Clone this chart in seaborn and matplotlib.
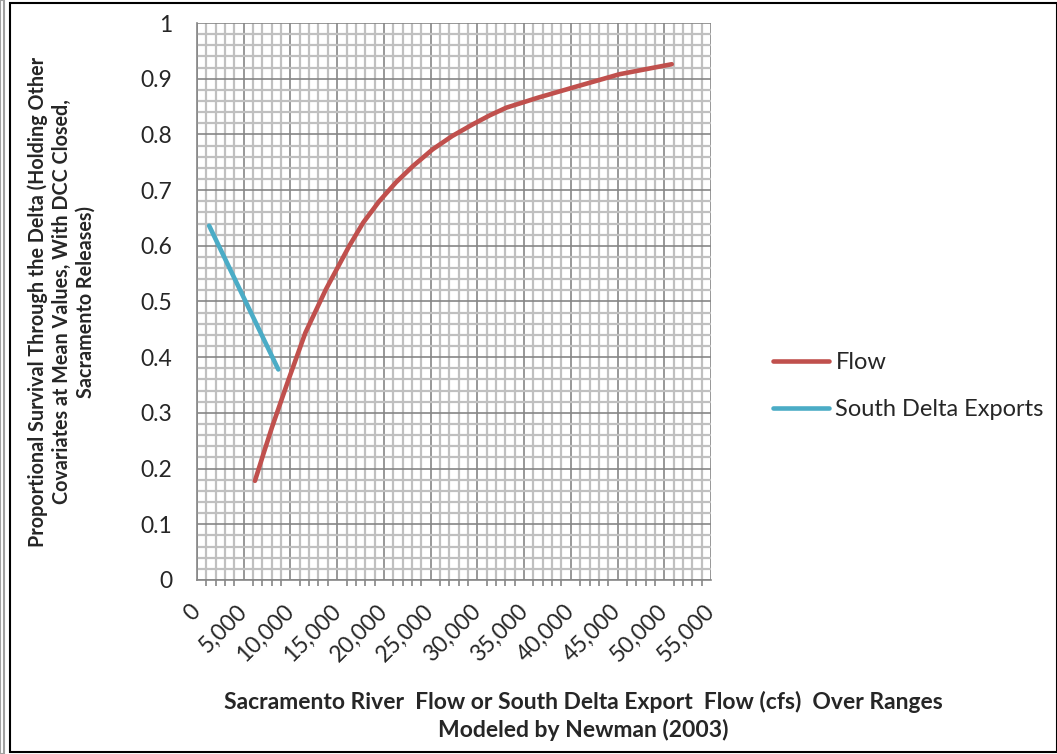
import numpy as np
import pandas as pd
import seaborn as sns
import matplotlib.pyplot as plt
from matplotlib.ticker import MultipleLocator, FuncFormatter
from matplotlib.patches import Rectangle

# values
flow_x = [6200, 7100, 8000, 9800, 11600, 13800, 16300, 17800, 19500, 21300, 23100, 25200, 27300, 29500, 31300,
          33100, 36500, 40200, 45200, 50800]
flow_y = [0.178, 0.226, 0.273, 0.360, 0.444, 0.522, 0.600, 0.642, 0.680, 0.714, 0.743, 0.773, 0.797, 0.818, 0.834,
          0.848, 0.866, 0.884, 0.908, 0.926]
export_x = [1300, 5000, 8700]
export_y = [0.636, 0.507, 0.378]

flow = pd.DataFrame({'cfs': flow_x, 'surv': flow_y})
exports = pd.DataFrame({'cfs': export_x, 'surv': export_y})

sns.set_style("white")
plt.rcParams['font.family'] = ['Lato', 'DejaVu Sans']

fig = plt.figure(figsize=(10.57, 7.54), dpi=100)
ax = fig.add_axes([197/1057, 1 - 580/754, 514/1057, 557/754])

sns.lineplot(data=flow, x='cfs', y='surv', ax=ax, color='#C0504D', lw=3.3,
             label='Flow', sort=False, estimator=None, solid_capstyle='round', solid_joinstyle='round')
sns.lineplot(data=exports, x='cfs', y='surv', ax=ax, color='#4BACC6', lw=3.3,
             label='South Delta Exports', sort=False, estimator=None, solid_capstyle='round')

ax.set_xlim(0, 55000)
ax.set_ylim(0, 1)
ax.xaxis.set_major_locator(MultipleLocator(5000))
ax.xaxis.set_minor_locator(MultipleLocator(1000))
ax.yaxis.set_major_locator(MultipleLocator(0.1))
ax.yaxis.set_minor_locator(MultipleLocator(0.02))
ax.xaxis.set_major_formatter(FuncFormatter(lambda v, p: f"{int(round(v)):,}"))
ax.yaxis.set_major_formatter(FuncFormatter(lambda v, p: f"{round(v, 1):g}"))

ax.set_axisbelow(True)
ax.grid(which='minor', color='#C0C0C0', lw=1.6)
ax.grid(which='major', color='#868686', lw=1.2)
for s in ['top', 'right']:
    ax.spines[s].set_visible(False)
for s in ['left', 'bottom']:
    ax.spines[s].set_color('#868686')
    ax.spines[s].set_linewidth(1.2)

ax.tick_params(axis='both', which='major', length=5, width=1.2, color='#868686', labelsize=16.5)
ax.tick_params(axis='x', which='minor', length=4.5, width=1.2, color='#868686', bottom=True)
ax.tick_params(axis='y', which='minor', length=0)
ax.tick_params(axis='y', which='major', pad=13)
ax.tick_params(axis='x', which='major', pad=15)
for lbl in ax.get_xticklabels():
    lbl.set_rotation(45)
    lbl.set_ha('right')
    lbl.set_va('center')
    lbl.set_rotation_mode('anchor')

ax.set_ylabel("Proportional Survival Through the Delta (Holding Other\n"
              "Covariates at Mean Values, With DCC Closed,\nSacramento Releases)",
              fontsize=14.2, fontweight='bold', linespacing=1.25, va='center')
ax.yaxis.set_label_coords(-0.263, 0.5)
ax.set_xlabel("Sacramento River  Flow or South Delta Export  Flow (cfs)  Over Ranges\n"
              "Modeled by Newman (2003)",
              fontsize=16.5, fontweight='bold', linespacing=1.35, va='center')
ax.xaxis.set_label_coords(0.751, -0.244)

ax.legend(loc='center left', bbox_to_anchor=(1.12, 0.348), frameon=False,
          fontsize=17, handlelength=2.4, handletextpad=0.26, labelspacing=1.1,
          borderpad=0, borderaxespad=0)

# chart border
fig.patches.append(Rectangle((10/1057, 2/754), 1 - 10/1057, 1 - 5/754, transform=fig.transFigure,
                             fill=False, edgecolor='black', lw=1.5))
fig.patches.append(Rectangle((0, 0), 4/1057, 1, transform=fig.transFigure,
                             fill=False, edgecolor='#A0A0A0', lw=1.5))

fig.savefig('out.png', dpi=100)
